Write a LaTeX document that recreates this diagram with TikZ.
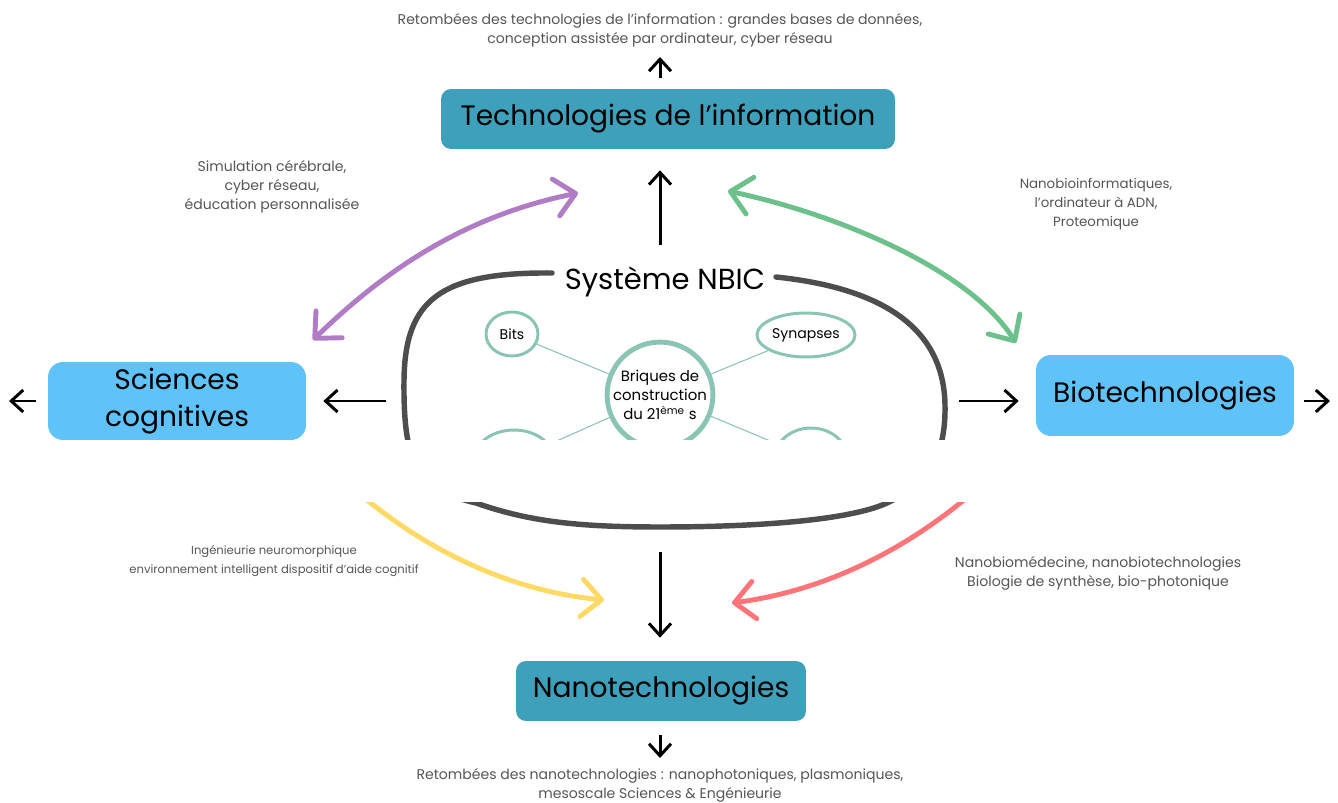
\documentclass[tikz,border=0pt]{standalone}
\usepackage{fontspec}
\setmainfont{Poppins}
\usetikzlibrary{arrows.meta,shapes.geometric}

\definecolor{techblue}{HTML}{3FA0BC}
\definecolor{lightblue}{HTML}{5FC3FA}
\definecolor{notegray}{HTML}{555555}
\definecolor{brickgreen}{HTML}{8AC4B4}
\definecolor{sysgray}{HTML}{4D4D4D}
\definecolor{cogpurple}{HTML}{B07CC6}
\definecolor{biogreen}{HTML}{6CC08B}
\definecolor{nanoyellow}{HTML}{FFD966}
\definecolor{nanored}{HTML}{FF7479}

\begin{document}
\begin{tikzpicture}[x=0.02cm, y=-0.02cm,
					field/.style = {rounded corners=0.2cm, inner sep=0pt, align=center, font=\fontsize{16}{21.5}\selectfont},
					note/.style = {font=\fontsize{8}{10.8}\selectfont, text=notegray, align=center},
					brick/.style = {draw=brickgreen, line width=1.7pt, ellipse, inner sep=0pt, font=\fontsize{8}{10}\selectfont},
					link/.style = {draw=brickgreen, line width=0.6pt},
					flow/.style = {-{Straight Barb[length=2.4mm, width=4.4mm]}, line width=1.7pt},
					bond/.style = {{Straight Barb[length=4mm, width=7.5mm, round]}-{Straight Barb[length=4mm, width=7.5mm, round]}, line width=2.8pt, line cap=round}
				]

				\useasboundingbox (0,0) rectangle (1338,803);

				% les quatre domaines
				\node[field, fill=techblue, minimum width=9.08cm, minimum height=1.2cm] (tech) at (668,119) {Technologies de l’information};
				\node[field, fill=techblue, minimum width=5.8cm, minimum height=1.2cm] (nano) at (661,691) {Nanotechnologies};
				\node[field, fill=lightblue, rounded corners=0.3cm, minimum width=5.16cm, minimum height=1.56cm] (cogn) at (177,401) {\raisebox{-3pt}{\parbox{5cm}{\centering Sciences\\cognitives}}};
				\node[field, fill=lightblue, rounded corners=0.3cm, minimum width=5.16cm, minimum height=1.62cm] (bio) at (1165,395.5) {Biotechnologies};

				% le système NBIC
				\node[font=\fontsize{16.5}{20}\selectfont] (nbic) at (665,282) {Système NBIC};
				\draw[sysgray, line width=3.1pt, line cap=round] (552,273) .. controls (440,272) and (405,300) .. (404,380)
				.. controls (403,470) and (420,490) .. (476,503) .. controls (530,522) and (580,527) .. (660,527)
				.. controls (760,527) and (850,520) .. (887,503) .. controls (925,485) and (946,460) .. (945,405)
				.. controls (944,340) and (900,290) .. (776,277);
				\coordinate (sysW) at (404,401);
				\coordinate (sysE) at (945,401);
				\coordinate (sysS) at (660,527);

				\node[draw=brickgreen, line width=2.8pt, circle, minimum size=1.92cm, inner sep=0pt, align=center,
					font=\fontsize{8.5}{10.8}\selectfont] (core) at (660,395) {Briques de\\construction\\du 21\textsuperscript{ème} s};
				\node[brick, minimum width=1.04cm, minimum height=0.88cm] (bits) at (512,334) {Bits};
				\node[brick, minimum width=1.96cm, minimum height=0.88cm] (syn) at (806,335) {Synapses};
				\node[brick, minimum width=1.6cm, minimum height=1.2cm] (lowL) at (514,460) {};
				\node[brick, minimum width=1.44cm, minimum height=1.2cm] (lowR) at (811,458) {};
				\draw[link] (core) -- (bits);
				\draw[link] (core) -- (syn);
				\draw[link] (core) -- (lowL);
				\draw[link] (core) -- (lowR);

				% flux vers les domaines
				\draw[flow, shorten <=16*0.02cm, shorten >=21*0.02cm] (nbic.north -| core) -- (tech.south -| core);
				\draw[flow, shorten <=18*0.02cm, shorten >=17*0.02cm] (sysW) -- (cogn.east |- sysW);
				\draw[flow, shorten <=14*0.02cm, shorten >=17*0.02cm] (sysE) -- (bio.west |- sysE);
				\draw[flow, shorten <=25*0.02cm, shorten >=23*0.02cm] (sysS) -- (nano.north -| sysS);

				\coordinate (techOut) at (660,57);
				\coordinate (nanoOut) at (660,758);
				\coordinate (cognOut) at (9,401);
				\coordinate (bioOut) at (1330,401);
				\draw[flow, shorten <=11*0.02cm] (tech.north -| techOut) -- (techOut);
				\draw[flow, shorten <=14*0.02cm] (nano.south -| nanoOut) -- (nanoOut);
				\draw[flow, shorten <=12*0.02cm] (cogn.west |- cognOut) -- (cognOut);
				\draw[flow, shorten <=10*0.02cm] (bio.east |- bioOut) -- (bioOut);

				% retombées
				\node[note] (techNote) at (660,30) {Retombées des technologies de l’information : grandes bases de données,\\conception assistée par ordinateur, cyber réseau};
				\node[note] (nanoNote) at (660,785) {Retombées des nanotechnologies : nanophotoniques, plasmoniques,\\mesoscale Sciences \& Engénieurie};

				% convergences
				\coordinate (cognA) at (313,340);
				\coordinate (cognB) at (578,193);
				\coordinate (bioA) at (728,191);
				\coordinate (bioB) at (1016,343);
				\coordinate (yelA) at (318,455);
				\coordinate (yelB) at (604,600);
				\coordinate (redA) at (1000,468);
				\coordinate (redB) at (732,603);
				\draw[bond, cogpurple] (cognA) .. controls (390,265) and (470,215) .. (cognB);
				\draw[bond, biogreen] (bioA) .. controls (840,215) and (970,270) .. (bioB);
				\draw[bond, -{Straight Barb[length=4mm, width=7.5mm, round]}, nanoyellow] (yelA) .. controls (400,540) and (500,590) .. (yelB);
				\draw[bond, -{Straight Barb[length=4mm, width=7.5mm, round]}, nanored] (redA) .. controls (920,545) and (830,590) .. (redB);

				\node[note] (cognNote) at (272,187) {Simulation cérébrale,\\cyber réseau,\\éducation personnalisée};
				\node[note, font=\fontsize{7.6}{10.8}\selectfont] (bioNote) at (1096,204) {Nanobioinformatiques,\\l’ordinateur à ADN,\\Proteomique};
				\node[note, font=\fontsize{6.6}{10.8}\selectfont] (yelNote) at (274,561) {Ingénieurie neuromorphique\\environnement intelligent dispositif d’aide cognitif};
				\node[note] (redNote) at (1098,573) {Nanobiomédecine, nanobiotechnologies\\Biologie de synthèse, bio-photonique};

				\fill[white] (0,440) rectangle (1338,502);
			\end{tikzpicture}
\end{document}
